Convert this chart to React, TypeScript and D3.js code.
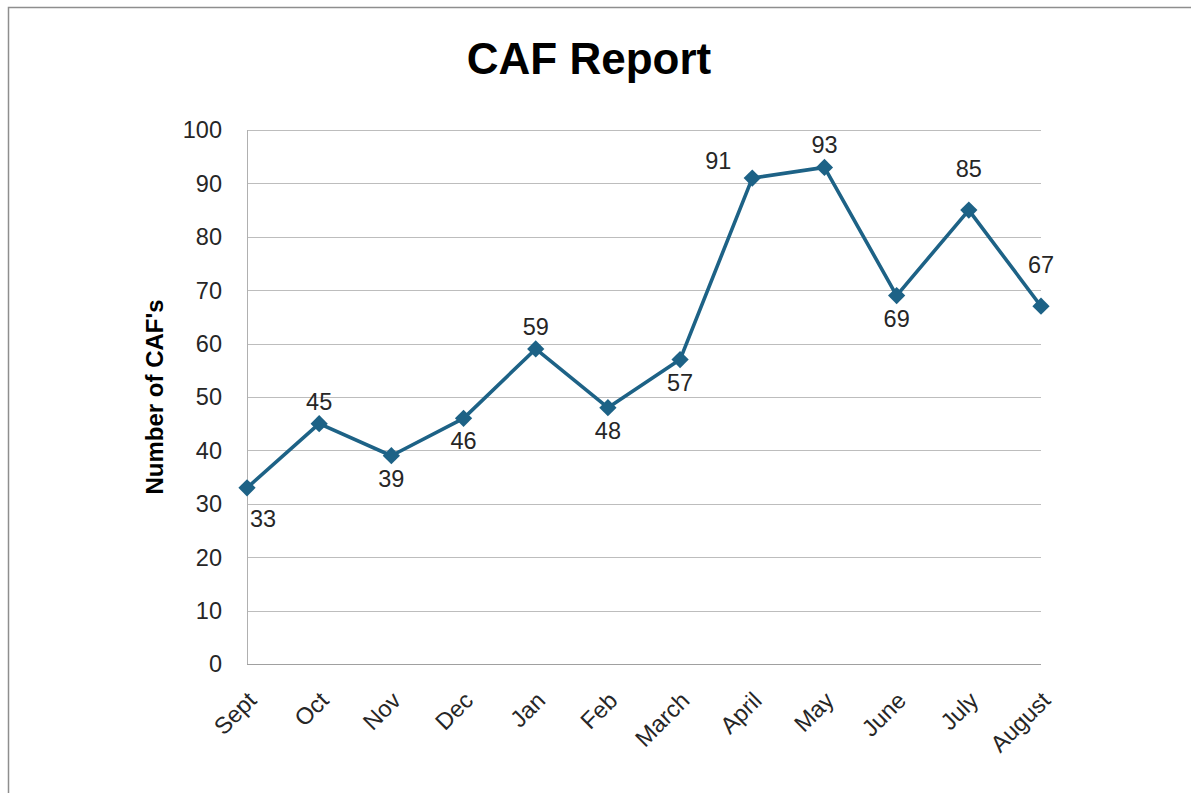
import * as d3 from "d3";
import * as React from "react";

const months = ["Sept", "Oct", "Nov", "Dec", "Jan", "Feb", "March", "April", "May", "June", "July", "August"];
const cafCounts = [33, 45, 39, 46, 59, 48, 57, 91, 93, 69, 85, 67];
// where Excel put each data label
const labelSpots = ["belowRight", "above", "below", "below", "above", "below", "below", "left", "above", "below", "high", "high"];
const yTicks = [0, 10, 20, 30, 40, 50, 60, 70, 80, 90, 100];

const FONT = "'Liberation Sans', Arial, sans-serif";

export default function App() {
  const ref = React.useRef<SVGSVGElement>(null);

  React.useEffect(() => {
    const width = 1191;
    const height = 793;
    const margin = { top: 130, right: 150, bottom: 129, left: 247 };
    const color = "#1d6286";

    const svg = d3.select(ref.current).attr("viewBox", [0, 0, width, height]);
    svg.selectAll("*").remove();

    // outer frame
    svg
      .append("rect")
      .attr("x", 8.5)
      .attr("y", 7.5)
      .attr("width", 1300)
      .attr("height", 900)
      .attr("fill", "white")
      .attr("stroke", "#8e8e8e")
      .attr("stroke-width", 1.5);

    let x = d3
      .scalePoint()
      .domain(months)
      .range([margin.left, width - margin.right]);

    let y = d3
      .scaleLinear()
      .domain([0, 100])
      .range([height - margin.bottom, margin.top]);

    // gridlines
    svg
      .append("g")
      .selectAll("line")
      .data(yTicks)
      .join("line")
      .attr("x1", margin.left)
      .attr("x2", x(months[months.length - 1]))
      .attr("y1", (d) => Math.round(y(d)) + 0.5)
      .attr("y2", (d) => Math.round(y(d)) + 0.5)
      .attr("stroke", (d) => (d === 0 ? "#a0a0a0" : "#bdbdbd"))
      .attr("stroke-width", 1);

    // left axis line
    svg
      .append("line")
      .attr("x1", margin.left + 0.5)
      .attr("x2", margin.left + 0.5)
      .attr("y1", y(100))
      .attr("y2", y(0))
      .attr("stroke", "#b0b0b0");

    // y tick labels
    svg
      .append("g")
      .selectAll("text")
      .data(yTicks)
      .join("text")
      .attr("x", margin.left - 25)
      .attr("y", (d) => y(d))
      .attr("dy", "0.36em")
      .attr("text-anchor", "end")
      .attr("font-family", FONT)
      .attr("font-size", 23.5)
      .attr("fill", "#262626")
      .text((d) => d);

    // x labels, rotated
    svg
      .append("g")
      .selectAll("text")
      .data(months)
      .join("text")
      .attr("transform", (d) => `translate(${x(d) - 1},${690}) rotate(-45)`)
      .attr("dy", "0.72em")
      .attr("text-anchor", "end")
      .attr("font-family", FONT)
      .attr("font-size", 23.5)
      .attr("fill", "#262626")
      .text((d) => d);

    // title
    svg
      .append("text")
      .attr("x", 589)
      .attr("y", 74)
      .attr("text-anchor", "middle")
      .attr("font-family", FONT)
      .attr("font-weight", "bold")
      .attr("font-size", 44)
      .attr("fill", "#000")
      .text("CAF Report");

    // y axis title
    svg
      .append("text")
      .attr("transform", `translate(163,${(y(0) + y(100)) / 2}) rotate(-90)`)
      .attr("text-anchor", "middle")
      .attr("font-family", FONT)
      .attr("font-weight", "bold")
      .attr("font-size", 24)
      .attr("fill", "#000")
      .text("Number of CAF's");

    const data = months.map((m, i) => ({ month: m, value: cafCounts[i], spot: labelSpots[i] }));

    let line = d3
      .line<any>()
      .x((d) => x(d.month))
      .y((d) => y(d.value));

    svg
      .append("path")
      .datum(data)
      .attr("fill", "none")
      .attr("stroke", color)
      .attr("stroke-width", 3.6)
      .attr("stroke-linejoin", "round")
      .attr("d", line);

    // diamond markers
    let diamond = d3.symbol().type(d3.symbolDiamond2).size(190);
    svg
      .append("g")
      .selectAll("path")
      .data(data)
      .join("path")
      .attr("transform", (d) => `translate(${x(d.month)},${y(d.value)})`)
      .attr("d", diamond)
      .attr("fill", color);

    // data labels
    const spot = {
      above: { dx: 0, dy: -14, anchor: "middle" },
      high: { dx: 0, dy: -33, anchor: "middle" },
      below: { dx: 0, dy: 31, anchor: "middle" },
      belowRight: { dx: 3, dy: 39, anchor: "start" },
      left: { dx: -21, dy: -9, anchor: "end" },
    };
    svg
      .append("g")
      .selectAll("text")
      .data(data)
      .join("text")
      .attr("x", (d) => x(d.month) + spot[d.spot].dx)
      .attr("y", (d) => y(d.value) + spot[d.spot].dy)
      .attr("text-anchor", (d) => spot[d.spot].anchor)
      .attr("font-family", FONT)
      .attr("font-size", 23.5)
      .attr("fill", "#262626")
      .text((d) => d.value);
  }, []);

  return (
    <svg
      ref={ref}
      width={1191}
      height={793}
      style={{ position: "absolute", left: 0, top: 0, background: "white" }}
    ></svg>
  );
}
